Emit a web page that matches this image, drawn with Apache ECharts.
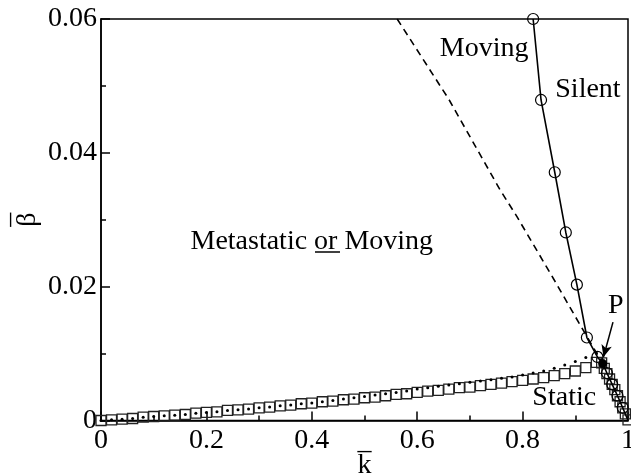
<!DOCTYPE html>
<html><head><meta charset="utf-8">
<script src="https://cdn.jsdelivr.net/npm/echarts@6/dist/echarts.min.js"></script>
<style>html,body{margin:0;padding:0;background:#fff}#c{width:631px;height:475px}</style>
</head><body><div id="c"></div>
<script>
// Tick labels
const xTickLabels = ['0', '0.2', '0.4', '0.6', '0.8', '1'];
const yTickLabels = ['0', '0.02', '0.04', '0.06'];

// Squares: rising branch (static boundary)
const staticUpK = [0,0.02,0.04,0.06,0.08,0.10,0.12,0.14,0.16,0.18,0.20,0.22,0.24,0.26,0.28,0.30,0.32,0.34,0.36,0.38,0.40,0.42,0.44,0.46,0.48,0.50,0.52,0.54,0.56,0.58,0.60,0.62,0.64,0.66,0.68,0.70,0.72,0.74,0.76,0.78,0.80,0.82,0.84,0.86,0.88,0.90,0.92,0.94];
const staticUpBeta = [0,0.0001,0.0002,0.0003,0.0005,0.0006,0.0007,0.0008,0.0009,0.0011,0.0012,0.0013,0.0015,0.0016,0.0017,0.0019,0.0020,0.0022,0.0023,0.0025,0.0026,0.0028,0.0029,0.0031,0.0032,0.0034,0.0035,0.0037,0.0039,0.0040,0.0042,0.0044,0.0045,0.0047,0.0049,0.0050,0.0052,0.0054,0.0056,0.0058,0.0060,0.0062,0.0064,0.0067,0.0070,0.0074,0.0079,0.0087];

// Squares: descending branch
const staticDownK = [0.950,0.955,0.960,0.965,0.970,0.975,0.980,0.985,0.990,0.995,1.000];
const staticDownBeta = [0.0086,0.0078,0.0070,0.0062,0.0054,0.0046,0.0037,0.0028,0.0019,0.0010,0.0001];

// Dotted branch
const dottedK = [0,0.02,0.04,0.06,0.08,0.10,0.12,0.14,0.16,0.18,0.20,0.22,0.24,0.26,0.28,0.30,0.32,0.34,0.36,0.38,0.40,0.42,0.44,0.46,0.48,0.50,0.52,0.54,0.56,0.58,0.60,0.62,0.64,0.66,0.68,0.70,0.72,0.74,0.76,0.78,0.80,0.82,0.84,0.86,0.88,0.90,0.92,0.94];
const dottedBeta = [0,0.0001,0.0002,0.0003,0.0005,0.0006,0.0007,0.0008,0.0009,0.0011,0.0012,0.0013,0.0015,0.0016,0.0017,0.0019,0.0020,0.0022,0.0023,0.0025,0.0026,0.0028,0.0030,0.0032,0.0034,0.0036,0.0038,0.0040,0.0042,0.0044,0.0047,0.0049,0.0051,0.0053,0.0055,0.0057,0.0059,0.0061,0.0063,0.0065,0.0068,0.0071,0.0074,0.0078,0.0083,0.0088,0.0094,0.0101];

// Solid line (silent boundary) and its circle markers
const silentK = [0.820,0.835,0.861,0.882,0.903,0.922,0.942,0.952,0.960,0.970,0.980,0.990,1.000];
const silentBeta = [0.0600,0.0479,0.0371,0.0281,0.0203,0.0124,0.0095,0.0085,0.0071,0.0054,0.0037,0.0019,0.0000];
const silentMarked = [true,true,true,true,true,true,true,false,true,true,true,true,false];

// Dashed line (moving boundary)
const movingK = [0.562,0.660,0.757,0.789,0.860,0.909,0.952];
const movingBeta = [0.0600,0.0480,0.0345,0.0305,0.0210,0.0143,0.0085];

// Point P
const pointPK = [0.952];
const pointPBeta = [0.0085];

// Region labels
const labelText = ['Moving', 'Silent', 'Metastatic {u|or} Moving', 'Static', 'P'];
const labelK = [0.727, 0.924, 0.400, 0.879, 0.977];
const labelBeta = [0.0555, 0.0494, 0.0268, 0.0034, 0.0171];

const FONT = 'Liberation Serif';
const zip = (a, b) => a.map((v, i) => [v, b[i]]);

const chart = echarts.init(document.getElementById('c'));
chart.setOption({
  animation: false,
  backgroundColor: '#fff',
  grid: { left: 101, right: 3, top: 19, bottom: 54.5, outerBoundsMode: 'none', containLabel: false,
    show: true, borderColor: '#000', borderWidth: 1.5, backgroundColor: 'transparent' },
  xAxis: {
    type: 'value', min: 0, max: 1, interval: 0.2,
    name: '{o|\u2013}\n{b|k}', nameLocation: 'middle', nameGap: 29, nameMoveOverlap: false,
    nameTextStyle: { fontFamily: FONT, fontSize: 28, color: '#000',
      rich: { o: { fontFamily: FONT, fontSize: 28, lineHeight: 2, color: '#000' },
              b: { fontFamily: FONT, fontSize: 28, lineHeight: 28, color: '#000' } } },
    axisLine: { show: true, lineStyle: { color: '#000', width: 1.5 } },
    axisTick: { show: true, inside: true, length: 9, lineStyle: { color: '#000', width: 1.5 } },
    minorTick: { show: true, splitNumber: 2, length: 5, lineStyle: { color: '#000', width: 1.5 } },
    splitLine: { show: false },
    axisLabel: { fontFamily: FONT, fontSize: 28, color: '#000', margin: 6, hideOverlap: false,
      formatter: (v) => xTickLabels[Math.round(v / 0.2)] }
  },
  yAxis: {
    type: 'value', min: 0, max: 0.06, interval: 0.02,
    name: '{o|\u2013}\n{b|\u03B2}', nameLocation: 'middle', nameGap: 59, nameRotate: 90, nameMoveOverlap: false,
    nameTextStyle: { fontFamily: FONT, fontSize: 28, color: '#000',
      rich: { o: { fontFamily: FONT, fontSize: 28, lineHeight: 8, color: '#000' },
              b: { fontFamily: FONT, fontSize: 28, lineHeight: 28, color: '#000' } } },
    axisLine: { show: true, lineStyle: { color: '#000', width: 1.5 } },
    axisTick: { show: true, inside: true, length: 9, lineStyle: { color: '#000', width: 1.5 } },
    minorTick: { show: true, splitNumber: 2, length: 5, lineStyle: { color: '#000', width: 1.5 } },
    splitLine: { show: false },
    axisLabel: { fontFamily: FONT, fontSize: 28, color: '#000', margin: 4, hideOverlap: false,
      formatter: (v) => yTickLabels[Math.round(v / 0.02)] }
  },
  series: [
    { type: 'line', data: zip(movingK, movingBeta), showSymbol: false, symbol: 'none',
      lineStyle: { color: '#000', width: 1.6, type: [7, 5] }, z: 2 },
    { type: 'scatter', data: zip(staticUpK, staticUpBeta), symbol: 'rect', symbolSize: 10,
      itemStyle: { color: 'rgba(0,0,0,0)', borderColor: '#222', borderWidth: 1.3, opacity: 1 }, z: 3 },
    { type: 'scatter', data: zip(staticDownK, staticDownBeta), symbol: 'rect', symbolSize: 10,
      itemStyle: { color: 'rgba(0,0,0,0)', borderColor: '#222', borderWidth: 1.3, opacity: 1 }, z: 3 },
    { type: 'scatter', data: zip(dottedK, dottedBeta), symbol: 'circle', symbolSize: 3,
      itemStyle: { color: '#000', opacity: 1 }, z: 4 },
    { type: 'line', clip: false,
      data: silentK.map((k, i) => ({ value: [k, silentBeta[i]], symbol: silentMarked[i] ? 'circle' : 'none' })),
      symbol: 'circle', symbolSize: 11, showAllSymbol: true,
      lineStyle: { color: '#000', width: 1.6 },
      itemStyle: { color: 'rgba(0,0,0,0)', borderColor: '#000', borderWidth: 1.2 }, z: 5 },
    { type: 'scatter', data: zip(pointPK, pointPBeta), symbol: 'circle', symbolSize: 9,
      itemStyle: { color: '#000', opacity: 1 }, z: 6 },
    { type: 'scatter', clip: false,
      data: labelK.map((k, i) => ({ value: [k, labelBeta[i]], name: labelText[i] })),
      symbolSize: 0, silent: true, z: 7,
      itemStyle: { opacity: 1 },
      label: { show: true, position: 'inside', formatter: (p) => p.name,
        fontFamily: FONT, fontSize: 28, color: '#000', opacity: 1,
        rich: { u: { fontFamily: FONT, fontSize: 28, color: '#000' } } },
      markLine: { silent: true, symbol: ['none', 'none'], label: { show: false },
        lineStyle: { color: '#000', width: 1.5, type: 'solid', opacity: 1 },
        data: [
          [{ coord: [0.406, 0.0252], symbol: 'none' }, { coord: [0.4535, 0.0252], symbol: 'none' }],
          [{ coord: [0.9715, 0.0147], symbol: 'none' }, { coord: [0.9535, 0.0095], symbol: 'arrow', symbolSize: [8, 12] }]
        ] } }
  ]
});
</script></body></html>
